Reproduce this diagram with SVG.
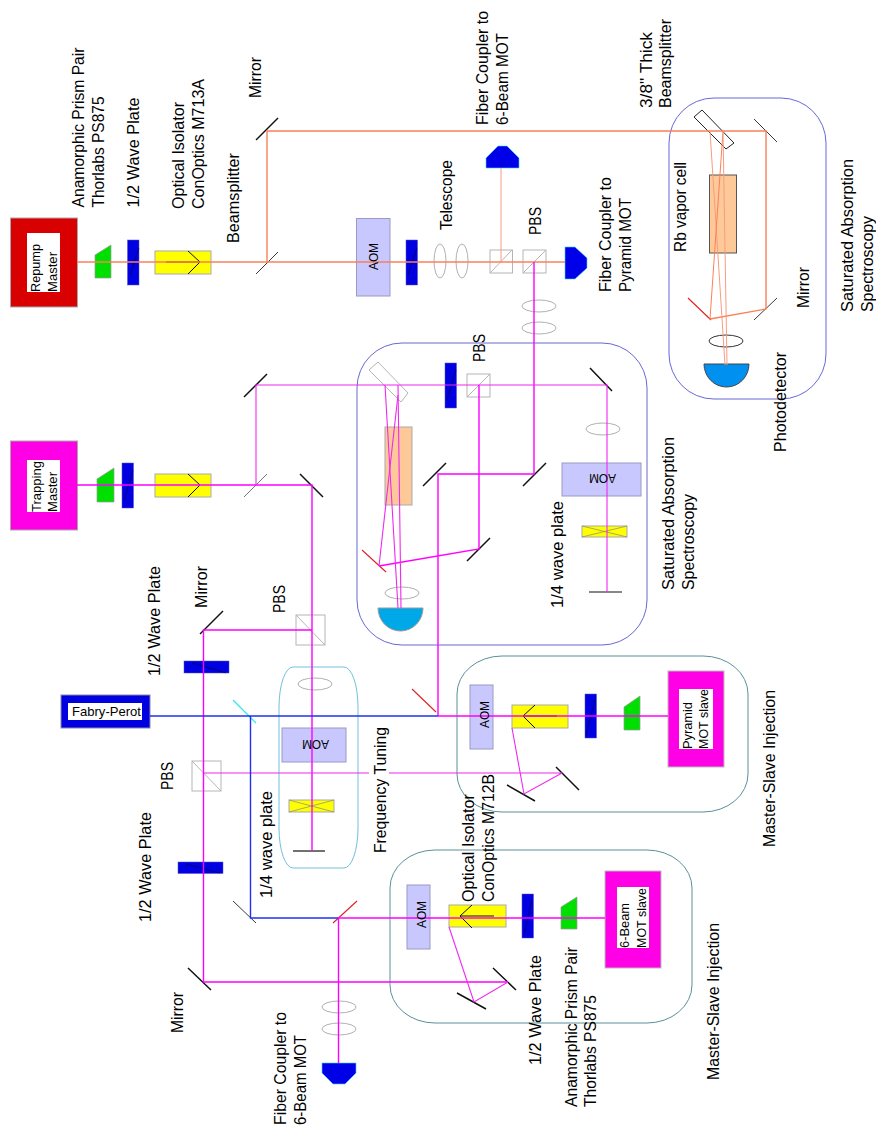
<svg xmlns="http://www.w3.org/2000/svg" width="876" height="1126" viewBox="0 0 876 1126">
<style>
text{font-family:"Liberation Sans",Arial,sans-serif;fill:#000}
.l{font-size:16.5px}
.s{font-size:13.5px}
.box{fill:none;stroke-width:1}
.inner{fill:#fff}
.wp{fill:#0000e0;stroke:#55c;stroke-width:.5}
.wl{stroke:#002;stroke-width:.5;fill:none}
.pr{fill:#00e000;stroke:#999;stroke-width:.7}
.iso{fill:#ff0;stroke:#aaa;stroke-width:1}
.chev{fill:none;stroke:#111;stroke-width:1}
.aom{fill:#c8c8ff;stroke:#9a9ac4;stroke-width:1}
.pbs{fill:#fff;stroke:#b5b5b5;stroke-width:1}
.lens{fill:none;stroke:#b0b0b0;stroke-width:1}
.fc{fill:#0000e8;stroke:#40d0f0;stroke-width:.6}
.cell{fill:#fdc998;stroke:#aaa;stroke-width:1}
.qw{fill:#ff0;stroke:#aaa;stroke-width:1}
.m{stroke:#111;stroke-width:1.5;fill:none}
.mt{stroke:#222;stroke-width:.9;fill:none}
.mr{stroke:#e02020;stroke-width:1.1;fill:none}
.o{stroke:#fa8058;stroke-width:1.4;fill:none}
.ot{stroke:#f89c80;stroke-width:1;fill:none}
.p{stroke:#ff00ff;stroke-width:1.4;fill:none}
.pt{stroke:#f028f0;stroke-width:1.1;fill:none}
.b{stroke:#2030f0;stroke-width:1.4;fill:none}
</style>

<g id="enclosures">
<rect id="sat-abs-repump" class="box" x="669" y="98" width="157" height="301" rx="45" ry="45" stroke="#6868d8"/>
<rect id="sat-abs-trapping" class="box" x="357" y="343" width="290" height="302" rx="45" ry="45" stroke="#6868d0"/>
<rect id="frequency-tuning-box" class="box" x="279" y="667" width="79" height="201" rx="14" ry="40" stroke="#70c0dc"/>
<rect id="master-slave-pyramid" class="box" x="457" y="656" width="291" height="156" rx="45" ry="38" stroke="#5a9098"/>
<rect id="master-slave-6beam" class="box" x="390" y="850" width="302" height="173" rx="45" ry="38" stroke="#5a9098"/>
</g>

<g id="repump-master"><rect x="10.5" y="218" width="67" height="89" fill="#d80000" stroke="#aaa"/><rect class="inner" x="27" y="233" width="33" height="59"/></g>
<g id="repump-prism"><polygon class="pr" points="95,278 95,255 111,245 111,278"/></g>
<g id="repump-waveplate"><rect class="wp" x="127.5" y="240" width="11.5" height="45"/><path class="wl" d="M130 275 139 248"/></g>
<g id="repump-isolator"><rect class="iso" x="155" y="251" width="56" height="23"/><path class="chev" d="M188 251 200 262 188 274M166 262H200"/></g>
<g id="repump-beamsplitter"><path class="mt" d="M256 274 278 252"/></g>
<g id="repump-mirror"><path class="m" d="M256 140 278 118"/></g>
<g id="repump-aom"><rect class="aom" x="356.5" y="218.5" width="33.5" height="77.5"/></g>
<g id="repump-waveplate-2"><rect class="wp" x="406" y="240" width="11.5" height="45"/><path class="wl" d="M408 275 417 248"/></g>
<g id="telescope"><ellipse class="lens" cx="440" cy="261" rx="6" ry="17"/><ellipse class="lens" cx="462" cy="261" rx="6" ry="17"/></g>
<g id="pbs-1"><rect class="pbs" x="490" y="250" width="22.5" height="23"/><path class="pbs" d="M490 273 512 250"/></g>
<g id="pbs-2"><rect class="pbs" x="523" y="250" width="23" height="23"/><path class="pbs" d="M523 273 546 250"/></g>
<g id="fiber-6beam-top"><polygon class="fc" points="486,168 486,158 498,146 507,146 519,158 519,168"/></g>
<g id="fiber-pyramid"><polygon class="fc" points="565,247 575,247 587,258 587,268 575,279 565,279"/></g>
<g id="coupling-lenses"><ellipse class="lens" cx="539" cy="306" rx="17" ry="6"/><ellipse class="lens" cx="539" cy="328" rx="17" ry="6"/></g>

<g id="repump-thick-bs"><polygon points="694,117 702,110 734,143 726,149" fill="#fff" stroke="#222"/></g>
<g id="repump-cell"><rect class="cell" x="709.5" y="175" width="27" height="78" style="stroke:#555"/></g>
<g id="repump-sat-mirrors"><path class="mt" d="M754 119 777 142M754 320 777 298"/><path class="mr" d="M688 298 711 320"/></g>
<g id="repump-lens"><ellipse cx="726" cy="341" rx="17" ry="6" fill="none" stroke="#333"/></g>
<g id="repump-detector"><path d="M704 364H749A22.5 23 0 0 1 704 364Z" fill="#0090f0" stroke="#444"/></g>

<g id="trapping-master"><rect x="10.5" y="441" width="67" height="89" fill="#ff00e6" stroke="#aaa"/><rect class="inner" x="27" y="460" width="33" height="52"/></g>
<g id="trapping-prism"><polygon class="pr" points="97,502 97,479 114,468 114,502"/></g>
<g id="trapping-waveplate"><rect class="wp" x="122" y="463" width="11.5" height="45"/><path class="wl" d="M124 500 133 470"/></g>
<g id="trapping-isolator"><rect class="iso" x="155" y="474" width="56" height="23"/><path class="chev" d="M188 474 200 485 188 497"/></g>
<g id="trapping-beamsplitter"><path class="mt" d="M244 497 267 474" style="stroke:#666"/></g>
<g id="trapping-mirrors"><path class="m" d="M244 397 267 374M300 474 323 497"/></g>

<g id="trapping-thick-bs"><polygon points="369,370 378,362 408,393 401,402" fill="#fff" stroke="#b5b5b5"/></g>
<g id="trapping-waveplate-2"><rect class="wp" x="445" y="363" width="11.5" height="45"/><path class="wl" d="M447 400 456 370"/></g>
<g id="trapping-pbs"><rect class="pbs" x="467" y="374" width="23" height="23"/><path class="pbs" d="M467 397 490 374"/></g>
<g id="trapping-cell"><rect class="cell" x="385" y="427" width="27" height="78"/></g>
<g id="trapping-lens"><ellipse class="lens" cx="402" cy="593" rx="17" ry="6"/></g>
<g id="trapping-detector"><path d="M378 608H423A22.5 23 0 0 1 378 608Z" fill="#00a8e8" stroke="#999"/></g>
<g id="trapping-sat-mirrors"><path class="m" d="M590 368 612 391M423 486 446 463M523 486 546 463M467 561 490 538"/><path class="m" d="M589 592H622" style="stroke-width:1.2"/><path class="mr" d="M362 550 386 572"/></g>
<g id="sat-aom"><rect class="aom" x="562" y="463" width="79" height="33"/></g>
<g id="sat-quarter"><rect class="qw" x="582" y="526" width="45" height="11"/><path class="chev" style="stroke:#888;stroke-width:.7" d="M582 526 627 537M582 537 627 526"/></g>
<g id="sat-lens-2"><ellipse class="lens" cx="603" cy="429" rx="17" ry="6"/></g>

<g id="tuning-pbs"><rect class="pbs" x="296" y="615" width="29" height="30"/><path class="pbs" d="M296 615 325 645"/></g>
<g id="tuning-mirror"><path class="m" d="M200 634 223 611"/></g>
<g id="waveplate-top"><rect class="wp" x="184" y="661" width="45" height="12"/><path class="wl" d="M192 663 226 673"/></g>
<g id="fabry-perot"><rect x="61" y="695" width="89" height="33" fill="#0000e0" stroke="#88a"/><rect class="inner" x="68" y="703" width="74" height="17"/></g>
<g id="cyan-mirror"><path stroke="#20e8f0" stroke-width="1.1" fill="none" d="M233 700 256 723"/></g>
<g id="tuning-lens"><ellipse class="lens" cx="315" cy="684" rx="17" ry="6"/></g>
<g id="tuning-aom"><rect class="aom" x="282" y="728" width="64" height="34"/></g>
<g id="tuning-quarter"><rect class="qw" x="289" y="800" width="45" height="12"/><path class="chev" style="stroke:#888;stroke-width:.7" d="M289 800 334 812M289 812 334 800"/></g>
<g id="tuning-end-mirror"><path class="m" style="stroke-width:1.2" d="M293 851H325"/></g>
<g id="lower-pbs"><rect class="pbs" x="192" y="761" width="29" height="30"/><path class="pbs" d="M192 761 221 791"/></g>
<g id="waveplate-lower"><rect class="wp" x="178" y="862" width="45" height="11.5"/><path class="wl" d="M186 864 220 873"/></g>
<g id="lower-mirrors"><path class="m" d="M188 968 211 990"/><path class="mt" d="M233 901 256 923"/><path class="mr" d="M333 923 357 901"/></g>
<g id="lower-lenses"><ellipse class="lens" cx="339" cy="1007" rx="17" ry="6"/><ellipse class="lens" cx="339" cy="1029" rx="17" ry="6"/></g>
<g id="fiber-6beam-bottom"><polygon class="fc" points="322,1063 356,1063 356,1073 345,1084 333,1084 322,1073"/></g>
<g id="injection-mirror"><path class="mr" d="M412 689 436 712"/></g>

<g id="pyramid-aom"><rect class="aom" x="470" y="685" width="23" height="64"/></g>
<g id="pyramid-isolator"><rect class="iso" x="512" y="705" width="56" height="23"/><path class="chev" d="M535 705 523 716 535 728M523 716H557"/></g>
<g id="pyramid-waveplate"><rect class="wp" x="585" y="694" width="11.5" height="44"/><path class="wl" d="M586 735 595 700"/></g>
<g id="pyramid-prism"><polygon class="pr" points="624,730 624,707 640,696 640,730"/></g>
<g id="pyramid-slave"><rect x="668" y="671" width="56" height="96" fill="#ff00e6" stroke="#bbb"/><rect class="inner" x="679" y="689" width="34" height="60"/></g>
<g id="pyramid-mirrors"><path class="m" d="M507 785 535 801M556 767 579 790"/></g>

<g id="sixbeam-aom"><rect class="aom" x="407" y="885" width="23" height="64"/></g>
<g id="sixbeam-isolator"><rect class="iso" x="449" y="905" width="57" height="22"/><path class="chev" d="M472 905 460 916 472 928M460 916H494"/></g>
<g id="sixbeam-waveplate"><rect class="wp" x="522" y="894" width="11.5" height="44"/><path class="wl" d="M524 935 532 900"/></g>
<g id="sixbeam-prism"><polygon class="pr" points="561,929 561,907 577,897 577,929"/></g>
<g id="sixbeam-slave"><rect x="605" y="871" width="56" height="97" fill="#ff00e6" stroke="#bbb"/><rect class="inner" x="617" y="887" width="32" height="61"/></g>
<g id="sixbeam-mirrors"><path class="m" d="M457 993 486 1009M493 968 516 990"/></g>

<g id="connectors">
<path class="o" d="M77 262H565"/>
<path class="o" d="M267 262V131H766V309L710 319"/>
<path class="ot" d="M501 168V262"/>
<path class="ot" d="M710 131 725 365"/>
<path class="o" style="stroke-width:1" d="M723 131 710 319"/>
<path class="ot" d="M723 131 727 365"/>

<path class="p" d="M534 262V474H438V716"/>
<path class="p" d="M77 485H312V851"/>
<path class="pt" d="M256 485V385H607V592"/>
<path class="p" d="M479 385V549L379 566"/>
<path class="pt" d="M379 566 398 395"/>
<path class="pt" d="M385 385 398 608M398 385 401 608"/>
<path class="p" d="M312 630H203.5V982H508"/>
<path class="pt" d="M508 982 474 1002 449 927"/>
<path class="pt" d="M204 773H369"/>
<path class="pt" d="M389 773H562L524 794 512 728"/>
<path class="p" d="M438 716H668"/>
<path class="b" d="M150 716H438"/>
<path class="b" d="M250.5 716V918H338"/>
<path class="p" d="M338.5 918V1063"/>
<path class="p" d="M338 918H605"/>
</g>

<g id="labels">
<text class="l" transform="translate(83.5,207.5) rotate(-90)" textLength="160" lengthAdjust="spacingAndGlyphs">Anamorphic Prism Pair</text>
<text class="l" transform="translate(104,207.5) rotate(-90)" textLength="111" lengthAdjust="spacingAndGlyphs">Thorlabs PS875</text>
<text class="l" transform="translate(139,207.5) rotate(-90)" textLength="110" lengthAdjust="spacingAndGlyphs">1/2 Wave Plate</text>
<text class="l" transform="translate(184,209) rotate(-90)" textLength="107" lengthAdjust="spacingAndGlyphs">Optical Isolator</text>
<text class="l" transform="translate(204,209) rotate(-90)" textLength="130" lengthAdjust="spacingAndGlyphs">ConOptics M713A</text>
<text class="l" transform="translate(239,243) rotate(-90)" textLength="90" lengthAdjust="spacingAndGlyphs">Beamsplitter</text>
<text class="l" transform="translate(261,98) rotate(-90)" textLength="41" lengthAdjust="spacingAndGlyphs">Mirror</text>
<text class="l" transform="translate(488,125) rotate(-90)" textLength="114" lengthAdjust="spacingAndGlyphs">Fiber Coupler to</text>
<text class="l" transform="translate(508,125) rotate(-90)" textLength="92" lengthAdjust="spacingAndGlyphs">6-Beam MOT</text>
<text class="l" transform="translate(652,108) rotate(-90)" textLength="76" lengthAdjust="spacingAndGlyphs">3/8" Thick</text>
<text class="l" transform="translate(671,108) rotate(-90)" textLength="89" lengthAdjust="spacingAndGlyphs">Beamsplitter</text>
<text class="l" transform="translate(452,230) rotate(-90)" textLength="70" lengthAdjust="spacingAndGlyphs">Telescope</text>
<text class="l" transform="translate(541,235) rotate(-90)" textLength="28" lengthAdjust="spacingAndGlyphs">PBS</text>
<text class="l" transform="translate(611,292) rotate(-90)" textLength="115" lengthAdjust="spacingAndGlyphs">Fiber Coupler to</text>
<text class="l" transform="translate(631,292) rotate(-90)" textLength="94" lengthAdjust="spacingAndGlyphs">Pyramid MOT</text>
<text class="l" transform="translate(686,252) rotate(-90)" textLength="90" lengthAdjust="spacingAndGlyphs">Rb vapor cell</text>
<text class="l" transform="translate(809,308) rotate(-90)" textLength="41" lengthAdjust="spacingAndGlyphs">Mirror</text>
<text class="l" transform="translate(853,312) rotate(-90)" textLength="153" lengthAdjust="spacingAndGlyphs">Saturated Absorption</text>
<text class="l" transform="translate(873,312) rotate(-90)" textLength="96" lengthAdjust="spacingAndGlyphs">Spectroscopy</text>
<text class="l" transform="translate(786,452) rotate(-90)" textLength="100" lengthAdjust="spacingAndGlyphs">Photodetector</text>
<text class="l" transform="translate(485,362) rotate(-90)" textLength="28" lengthAdjust="spacingAndGlyphs">PBS</text>
<text class="l" transform="translate(160,676) rotate(-90)" textLength="110" lengthAdjust="spacingAndGlyphs">1/2 Wave Plate</text>
<text class="l" transform="translate(207,608) rotate(-90)" textLength="42" lengthAdjust="spacingAndGlyphs">Mirror</text>
<text class="l" transform="translate(285,613) rotate(-90)" textLength="28" lengthAdjust="spacingAndGlyphs">PBS</text>
<text class="l" transform="translate(386,853) rotate(-90)" textLength="126" lengthAdjust="spacingAndGlyphs">Frequency Tuning</text>
<text class="l" transform="translate(674,590) rotate(-90)" textLength="153" lengthAdjust="spacingAndGlyphs">Saturated Absorption</text>
<text class="l" transform="translate(694,590) rotate(-90)" textLength="96" lengthAdjust="spacingAndGlyphs">Spectroscopy</text>
<text class="l" transform="translate(563,608) rotate(-90)" textLength="107" lengthAdjust="spacingAndGlyphs">1/4 wave plate</text>
<text class="l" transform="translate(173,790) rotate(-90)" textLength="28" lengthAdjust="spacingAndGlyphs">PBS</text>
<text class="l" transform="translate(151,922) rotate(-90)" textLength="110" lengthAdjust="spacingAndGlyphs">1/2 Wave Plate</text>
<text class="l" transform="translate(272,898) rotate(-90)" textLength="107" lengthAdjust="spacingAndGlyphs">1/4 wave plate</text>
<text class="l" transform="translate(183,1033) rotate(-90)" textLength="41" lengthAdjust="spacingAndGlyphs">Mirror</text>
<text class="l" transform="translate(286,1125) rotate(-90)" textLength="113" lengthAdjust="spacingAndGlyphs">Fiber Coupler to</text>
<text class="l" transform="translate(306,1125) rotate(-90)" textLength="90" lengthAdjust="spacingAndGlyphs">6-Beam MOT</text>
<text class="l" transform="translate(474,902) rotate(-90)" textLength="108" lengthAdjust="spacingAndGlyphs">Optical Isolator</text>
<text class="l" transform="translate(494,902) rotate(-90)" textLength="128" lengthAdjust="spacingAndGlyphs">ConOptics M712B</text>
<text class="l" transform="translate(541,1065) rotate(-90)" textLength="110" lengthAdjust="spacingAndGlyphs">1/2 Wave Plate</text>
<text class="l" transform="translate(577,1107) rotate(-90)" textLength="160" lengthAdjust="spacingAndGlyphs">Anamorphic Prism Pair</text>
<text class="l" transform="translate(596,1107) rotate(-90)" textLength="112" lengthAdjust="spacingAndGlyphs">Thorlabs PS875</text>
<text class="l" transform="translate(719,1080) rotate(-90)" textLength="157" lengthAdjust="spacingAndGlyphs">Master-Slave Injection</text>
<text class="l" transform="translate(775,847) rotate(-90)" textLength="157" lengthAdjust="spacingAndGlyphs">Master-Slave Injection</text>

<text class="s" transform="translate(40,292) rotate(-90)" textLength="48" lengthAdjust="spacingAndGlyphs">Repump</text>
<text class="s" transform="translate(57,292) rotate(-90)" textLength="40" lengthAdjust="spacingAndGlyphs">Master</text>
<text class="s" transform="translate(41,512) rotate(-90)" textLength="51" lengthAdjust="spacingAndGlyphs">Trapping</text>
<text class="s" transform="translate(57,512) rotate(-90)" textLength="40" lengthAdjust="spacingAndGlyphs">Master</text>
<text class="s" transform="translate(692,749) rotate(-90)" textLength="47" lengthAdjust="spacingAndGlyphs">Pyramid</text>
<text class="s" transform="translate(708,749) rotate(-90)" textLength="60" lengthAdjust="spacingAndGlyphs">MOT slave</text>
<text class="s" transform="translate(629,948) rotate(-90)" textLength="45" lengthAdjust="spacingAndGlyphs">6-Beam</text>
<text class="s" transform="translate(646,948) rotate(-90)" textLength="60" lengthAdjust="spacingAndGlyphs">MOT slave</text>
<text class="s" x="72" y="716" textLength="69" lengthAdjust="spacingAndGlyphs">Fabry-Perot</text>
<text class="s" transform="translate(378,270) rotate(-90)" textLength="27" lengthAdjust="spacingAndGlyphs">AOM</text>
<text class="s" transform="translate(489,728) rotate(-90)" textLength="27" lengthAdjust="spacingAndGlyphs">AOM</text>
<text class="s" transform="translate(426,928) rotate(-90)" textLength="27" lengthAdjust="spacingAndGlyphs">AOM</text>
<text class="s" transform="translate(616,474) rotate(180)" textLength="27" lengthAdjust="spacingAndGlyphs">AOM</text>
<text class="s" transform="translate(329,740) rotate(180)" textLength="27" lengthAdjust="spacingAndGlyphs">AOM</text>
</g>
</svg>
